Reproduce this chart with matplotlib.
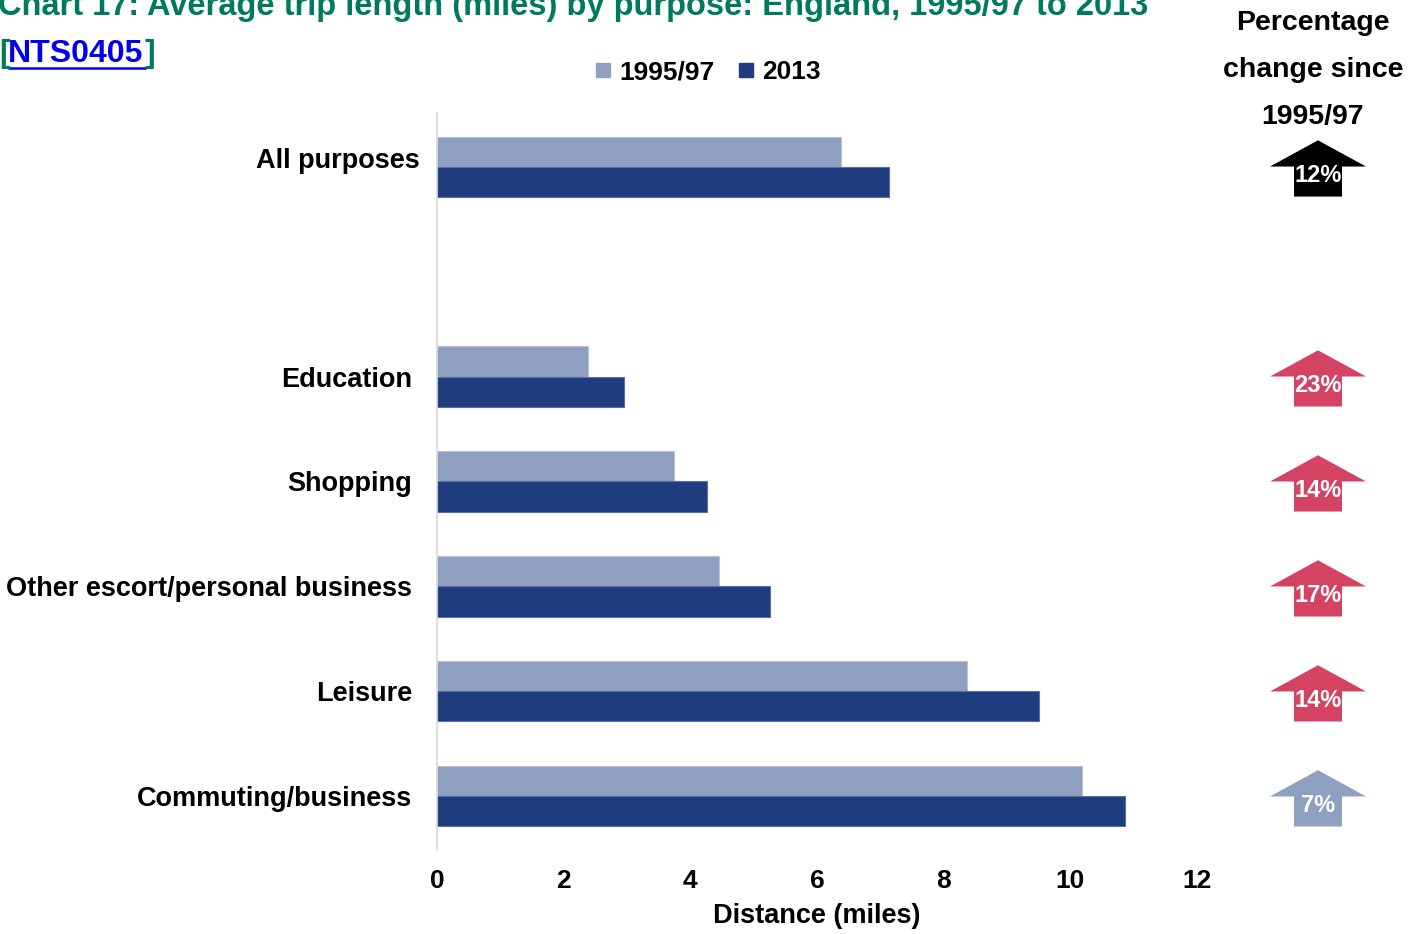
import matplotlib
matplotlib.use("Agg")
import matplotlib.pyplot as plt
from matplotlib.patches import Polygon
from matplotlib.lines import Line2D

plt.rcParams['font.family'] = ['Liberation Sans', 'DejaVu Sans']
plt.rcParams['font.weight'] = 'bold'

categories = ["Commuting/business", "Leisure", "Other escort/personal business",
              "Shopping", "Education", "", "All purposes"]
v1995 = [10.19, 8.37, 4.45, 3.75, 2.38, None, 6.38]
v2013 = [10.87, 9.51, 5.25, 4.27, 2.95, None, 7.14]
pct_labels = ["7%", "14%", "17%", "14%", "23%", None, "12%"]
arrow_colors = ["#8F9FC0", "#D44462", "#D44462", "#D44462", "#D44462", None, "#000000"]
xticks = [0, 2, 4, 6, 8, 10, 12]

c1995 = "#8F9FC0"
c2013 = "#1F3C7F"

W, H = 1425, 934
fig = plt.figure(figsize=(W / 100, H / 100), dpi=100)

def fx(px):
    return px / W

def fy(py):
    return 1 - py / H

ax = fig.add_axes([fx(437), fy(850), fx(1197) - fx(437), fy(113) - fy(850)])

bh = 0.286
for i, (a, b) in enumerate(zip(v1995, v2013)):
    if a is None:
        continue
    ax.barh(i + bh / 2, a, height=bh, color=c1995, edgecolor="#B8C2DA", linewidth=0.8)
    ax.barh(i - bh / 2, b, height=bh, color=c2013, edgecolor="#5A6FA3", linewidth=0.8)

ax.set_xlim(0, 12)
ax.set_ylim(-0.51, 6.51)
ax.set_xticks(xticks)
ax.set_xticklabels([str(t) for t in xticks], fontsize=19, fontweight='bold')
ax.set_yticks(range(len(categories)))
ytl = [c if c != "All purposes" else "" for c in categories]
ax.set_yticklabels(ytl, fontsize=19.5, fontweight='bold')
ax.tick_params(axis='both', length=0)
ax.tick_params(axis='x', pad=14)
ax.tick_params(axis='y', pad=18)
for s in ['top', 'right', 'bottom']:
    ax.spines[s].set_visible(False)
ax.spines['left'].set_color("#D9D9D9")
ax.spines['left'].set_linewidth(1.2)
ax.set_xlabel("Distance (miles)", fontsize=19.5, fontweight='bold', labelpad=7)

# "All purposes" label sits slightly higher/right in the reference
fig.text(fx(420), fy(161), "All purposes", ha='right', va='center',
         fontsize=19.5, fontweight='bold')

# arrows axis
aax = fig.add_axes([fx(1250), fy(850), fx(1400) - fx(1250), fy(113) - fy(850)])
aax.set_xlim(1250, 1400)
aax.set_ylim(-0.51, 6.51)
aax.axis('off')
cx = 1318
for i, (lab, col) in enumerate(zip(pct_labels, arrow_colors)):
    if lab is None:
        continue
    top = i + 0.25
    base = i
    bot = i - 0.286
    pts = [(cx, top), (cx + 48, base), (cx + 24, base), (cx + 24, bot),
           (cx - 24, bot), (cx - 24, base), (cx - 48, base)]
    aax.add_patch(Polygon(pts, closed=True, facecolor=col, edgecolor='none'))
    aax.text(cx, i - 0.09, lab, ha='center', va='center', color='white',
             fontsize=17, fontweight='bold')

fig.text(fx(1313), fy(70), "Percentage\nchange since\n1995/97", ha='center', va='center',
         fontsize=20.5, fontweight='bold', linespacing=2.05)

# title
title_col = "#007A5E"
fig.text(fx(-2), fy(6), "Chart 17: Average trip length (miles) by purpose: England, 1995/97 to 2013",
         ha='left', va='center', fontsize=23.5, fontweight='bold', color=title_col)
fig.text(fx(-1), fy(54), "[", ha='left', va='center', fontsize=23, fontweight='bold', color=title_col)
fig.text(fx(8), fy(54), "NTS0405", ha='left', va='center', fontsize=23, fontweight='bold',
         color="#0000EE")
fig.text(fx(145), fy(54), "]", ha='left', va='center', fontsize=23, fontweight='bold', color=title_col)
fig.add_artist(Line2D([fx(9), fx(145)], [fy(68), fy(68)], color="#0000EE", linewidth=1.8))

handles = [Line2D([], [], marker='s', linestyle='none', markersize=10, color=c1995),
           Line2D([], [], marker='s', linestyle='none', markersize=10, color=c2013)]
fig.legend(handles, ["1995/97", "2013"], loc='center', bbox_to_anchor=(fx(708), fy(72)),
           ncol=2, frameon=False, prop={'size': 19, 'weight': 'bold'},
           handlelength=0.6, handletextpad=0.3, columnspacing=0.9)

fig.savefig("out.png", dpi=100)
